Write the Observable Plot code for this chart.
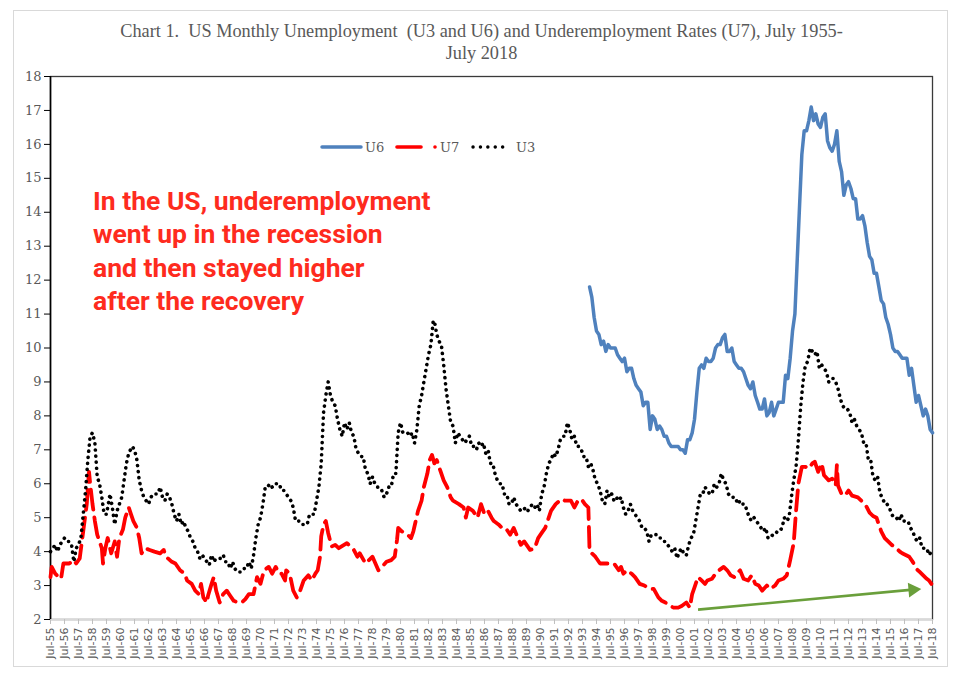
<!DOCTYPE html>
<html>
<head>
<meta charset="utf-8">
<script src="https://cdn.jsdelivr.net/npm/d3@7"></script>
<script src="https://cdn.jsdelivr.net/npm/@observablehq/plot@0.6"></script>
<style>
  html, body { margin: 0; padding: 0; background: #fff; }
  #wrap { position: relative; width: 959px; height: 677px; overflow: hidden; background: #fff; }
  #border { position: absolute; left: 13px; top: 10px; width: 935px; height: 657px; border: 1.5px solid #d9d9d9; box-sizing: border-box; }
  #chart { position: absolute; left: 0; top: 0; }
  #title { position: absolute; left: 2px; top: 20px; width: 959px; text-align: center; font-family: "Liberation Serif", "Times New Roman", serif; font-size: 18.3px; line-height: 22px; color: #595959; white-space: pre; }
  #legend { position: absolute; left: 0; top: 0; }
  #note { position: absolute; left: 93px; top: 184px; font-family: Roboto, "Liberation Sans", sans-serif; font-weight: 700; font-size: 26.5px; line-height: 33.3px; color: #fe2b1e; white-space: pre; }
</style>
</head>
<body>
<div id="wrap">
  <div id="border"></div>
  <div id="chart"></div>
  <div id="title"></div>
  <div id="note"></div>
  <svg id="legend" width="959" height="677"></svg>
</div>
<script>
// ---------- data ----------
const titleLines = ["Chart 1.  US Monthly Unemployment  (U3 and U6) and Underemployment Rates (U7), July 1955-", "July 2018"];
const noteLines = ["In the US, underemployment", "went up in the recession", "and then stayed higher", "after the recovery"];
const seriesNames = ["U6", "U7", "U3"];
const seriesColors = ["#4f81bd", "#ff0000", "#000000"];
const yTicks = [2,3,4,5,6,7,8,9,10,11,12,13,14,15,16,17,18];
const xTickLabels = ["Jul-55","Jul-56","Jul-57","Jul-58","Jul-59","Jul-60","Jul-61","Jul-62","Jul-63","Jul-64","Jul-65","Jul-66","Jul-67","Jul-68","Jul-69","Jul-70","Jul-71","Jul-72","Jul-73","Jul-74","Jul-75","Jul-76","Jul-77","Jul-78","Jul-79","Jul-80","Jul-81","Jul-82","Jul-83","Jul-84","Jul-85","Jul-86","Jul-87","Jul-88","Jul-89","Jul-90","Jul-91","Jul-92","Jul-93","Jul-94","Jul-95","Jul-96","Jul-97","Jul-98","Jul-99","Jul-00","Jul-01","Jul-02","Jul-03","Jul-04","Jul-05","Jul-06","Jul-07","Jul-08","Jul-09","Jul-10","Jul-11","Jul-12","Jul-13","Jul-14","Jul-15","Jul-16","Jul-17","Jul-18"];

const u3 = [["1955-07",4.0],["1955-09",4.1],["1955-11",4.2],["1956-01",4.0],["1956-03",4.2],["1956-05",4.3],["1956-07",4.4],["1956-09",4.3],["1956-11",4.3],["1957-01",4.2],["1957-03",3.7],["1957-05",4.1],["1957-07",4.2],["1957-09",4.4],["1957-11",5.1],["1958-01",5.8],["1958-03",6.7],["1958-05",7.4],["1958-07",7.5],["1958-09",7.2],["1958-11",6.2],["1959-01",6.0],["1959-03",5.6],["1959-05",5.1],["1959-07",5.1],["1959-09",5.5],["1959-10",5.7],["1959-12",5.3],["1960-02",4.8],["1960-04",5.2],["1960-06",5.4],["1960-08",5.6],["1960-10",6.1],["1960-12",6.6],["1961-02",6.9],["1961-05",7.1],["1961-07",7.0],["1961-09",6.7],["1961-11",6.1],["1962-01",5.8],["1962-03",5.6],["1962-05",5.5],["1962-07",5.4],["1962-09",5.6],["1962-11",5.7],["1963-01",5.7],["1963-03",5.7],["1963-05",5.9],["1963-07",5.6],["1963-09",5.5],["1963-11",5.7],["1964-01",5.6],["1964-03",5.4],["1964-05",5.1],["1964-07",4.9],["1964-09",5.1],["1964-11",4.8],["1965-01",4.9],["1965-03",4.7],["1965-05",4.6],["1965-07",4.4],["1965-09",4.3],["1965-11",4.1],["1966-01",4.0],["1966-03",3.8],["1966-05",3.9],["1966-07",3.8],["1966-09",3.7],["1966-11",3.6],["1967-01",3.9],["1967-03",3.7],["1967-05",3.8],["1967-07",3.8],["1967-09",3.8],["1967-11",3.9],["1968-01",3.7],["1968-03",3.7],["1968-05",3.5],["1968-07",3.7],["1968-09",3.5],["1968-11",3.4],["1969-01",3.4],["1969-03",3.4],["1969-05",3.5],["1969-07",3.5],["1969-09",3.7],["1969-11",3.5],["1970-01",3.9],["1970-03",4.4],["1970-05",4.8],["1970-07",5.0],["1970-09",5.4],["1970-11",5.9],["1971-01",5.9],["1971-03",6.0],["1971-05",5.9],["1971-07",6.0],["1971-09",6.0],["1971-11",6.0],["1972-01",5.8],["1972-03",5.8],["1972-05",5.7],["1972-07",5.6],["1972-09",5.5],["1972-11",5.3],["1973-01",4.9],["1973-03",4.9],["1973-05",4.9],["1973-07",4.8],["1973-09",4.8],["1973-11",4.8],["1974-01",5.1],["1974-03",5.1],["1974-05",5.1],["1974-07",5.5],["1974-09",5.9],["1974-11",6.6],["1975-01",8.1],["1975-03",8.6],["1975-05",9.0],["1975-07",8.6],["1975-09",8.4],["1975-11",8.3],["1976-01",7.9],["1976-03",7.6],["1976-05",7.4],["1976-07",7.8],["1976-09",7.6],["1976-11",7.8],["1977-01",7.5],["1977-03",7.4],["1977-05",7.0],["1977-07",6.9],["1977-09",6.8],["1977-11",6.8],["1978-01",6.4],["1978-03",6.3],["1978-05",6.0],["1978-07",6.2],["1978-09",6.0],["1978-11",5.9],["1979-01",5.9],["1979-03",5.8],["1979-05",5.6],["1979-07",5.7],["1979-09",5.9],["1979-11",5.9],["1980-01",6.3],["1980-03",6.3],["1980-05",7.5],["1980-07",7.8],["1980-09",7.5],["1980-11",7.5],["1981-01",7.5],["1981-03",7.4],["1981-05",7.5],["1981-07",7.2],["1981-09",7.6],["1981-11",8.3],["1982-01",8.6],["1982-03",9.0],["1982-05",9.4],["1982-07",9.8],["1982-09",10.1],["1982-11",10.8],["1982-12",10.8],["1983-02",10.4],["1983-04",10.2],["1983-06",10.1],["1983-08",9.5],["1983-10",8.8],["1983-12",8.3],["1984-02",7.8],["1984-04",7.7],["1984-06",7.2],["1984-08",7.5],["1984-10",7.4],["1984-12",7.3],["1985-02",7.2],["1985-04",7.3],["1985-06",7.4],["1985-08",7.1],["1985-10",7.1],["1985-12",7.0],["1986-02",7.2],["1986-04",7.1],["1986-06",7.2],["1986-08",6.9],["1986-10",7.0],["1986-12",6.6],["1987-02",6.6],["1987-04",6.3],["1987-06",6.1],["1987-08",6.0],["1987-10",6.0],["1987-12",5.7],["1988-02",5.7],["1988-04",5.4],["1988-06",5.4],["1988-08",5.6],["1988-10",5.4],["1988-12",5.3],["1989-02",5.2],["1989-04",5.2],["1989-06",5.3],["1989-08",5.2],["1989-10",5.3],["1989-12",5.4],["1990-02",5.3],["1990-04",5.4],["1990-06",5.2],["1990-08",5.7],["1990-10",5.9],["1990-12",6.3],["1991-02",6.6],["1991-04",6.7],["1991-06",6.9],["1991-08",6.8],["1991-10",7.0],["1991-12",7.3],["1992-02",7.4],["1992-04",7.4],["1992-06",7.8],["1992-08",7.6],["1992-10",7.3],["1992-12",7.4],["1993-02",7.1],["1993-04",7.1],["1993-06",7.0],["1993-08",6.8],["1993-10",6.8],["1993-12",6.5],["1994-02",6.6],["1994-04",6.4],["1994-06",6.1],["1994-08",6.0],["1994-10",5.8],["1994-12",5.5],["1995-02",5.4],["1995-04",5.8],["1995-06",5.6],["1995-08",5.7],["1995-10",5.5],["1995-12",5.6],["1996-02",5.5],["1996-04",5.6],["1996-06",5.3],["1996-08",5.1],["1996-10",5.2],["1996-12",5.4],["1997-02",5.2],["1997-04",5.1],["1997-06",5.0],["1997-08",4.9],["1997-10",4.7],["1997-12",4.7],["1998-02",4.6],["1998-04",4.3],["1998-06",4.5],["1998-08",4.5],["1998-10",4.5],["1998-12",4.4],["1999-02",4.4],["1999-04",4.3],["1999-06",4.3],["1999-08",4.2],["1999-10",4.1],["1999-12",4.0],["2000-02",4.1],["2000-04",3.8],["2000-06",4.0],["2000-08",4.1],["2000-10",3.9],["2000-12",3.9],["2001-02",4.2],["2001-04",4.4],["2001-06",4.5],["2001-08",4.9],["2001-10",5.3],["2001-12",5.7],["2002-02",5.7],["2002-04",5.9],["2002-06",5.8],["2002-08",5.7],["2002-10",5.7],["2002-12",6.0],["2003-02",5.9],["2003-04",6.0],["2003-06",6.3],["2003-08",6.1],["2003-10",6.0],["2003-12",5.7],["2004-02",5.6],["2004-04",5.6],["2004-06",5.6],["2004-08",5.4],["2004-10",5.5],["2004-12",5.4],["2005-02",5.4],["2005-04",5.2],["2005-06",5.0],["2005-08",4.9],["2005-10",5.0],["2005-12",4.9],["2006-02",4.8],["2006-04",4.7],["2006-06",4.6],["2006-08",4.7],["2006-10",4.4],["2006-12",4.4],["2007-02",4.5],["2007-04",4.5],["2007-06",4.6],["2007-08",4.6],["2007-10",4.7],["2007-12",5.0],["2008-02",4.9],["2008-04",5.0],["2008-06",5.6],["2008-08",6.1],["2008-10",6.5],["2008-12",7.3],["2009-02",8.3],["2009-04",9.0],["2009-06",9.5],["2009-08",9.6],["2009-10",10.0],["2009-12",9.9],["2010-02",9.8],["2010-04",9.9],["2010-06",9.4],["2010-08",9.5],["2010-10",9.4],["2010-12",9.3],["2011-02",9.0],["2011-04",9.1],["2011-06",9.1],["2011-08",9.0],["2011-10",8.8],["2011-12",8.5],["2012-02",8.3],["2012-04",8.2],["2012-06",8.2],["2012-08",8.1],["2012-10",7.8],["2012-12",7.9],["2013-02",7.7],["2013-04",7.6],["2013-06",7.5],["2013-08",7.2],["2013-10",7.2],["2013-12",6.7],["2014-02",6.7],["2014-04",6.2],["2014-06",6.1],["2014-08",6.2],["2014-10",5.7],["2014-12",5.6],["2015-02",5.4],["2015-04",5.4],["2015-06",5.3],["2015-08",5.1],["2015-10",5.0],["2015-12",5.0],["2016-02",4.9],["2016-04",5.1],["2016-06",4.9],["2016-08",4.9],["2016-10",4.9],["2016-12",4.7],["2017-02",4.6],["2017-04",4.4],["2017-06",4.3],["2017-08",4.4],["2017-10",4.1],["2017-12",4.1],["2018-02",4.1],["2018-04",3.9],["2018-06",4.0],["2018-07",3.9]];

const u7 = [["1955-07",3.25],["1955-08",3.55],["1955-11",3.35],["1956-02",3.25],["1956-04",3.2],["1956-06",3.65],["1956-09",3.65],["1956-11",3.65],["1957-03",3.75],["1957-05",3.65],["1957-08",3.8],["1957-11",4.6],["1958-02",5.4],["1958-04",6.35],["1958-05",6.0],["1958-07",5.4],["1958-09",4.9],["1958-11",4.5],["1959-01",4.3],["1959-03",4.1],["1959-04",3.65],["1959-06",4.1],["1959-08",4.4],["1959-11",3.95],["1960-02",4.3],["1960-04",3.85],["1960-06",4.4],["1960-09",4.65],["1960-11",5.0],["1961-02",5.3],["1961-04",5.1],["1961-06",4.9],["1961-09",4.7],["1961-11",4.4],["1962-01",3.95],["1962-04",4.1],["1962-08",4.05],["1962-12",4.0],["1963-05",3.95],["1963-08",4.05],["1963-10",3.85],["1964-03",3.7],["1964-06",3.65],["1964-10",3.45],["1965-02",3.35],["1965-04",3.15],["1965-08",3.05],["1965-11",2.85],["1966-02",2.75],["1966-04",3.05],["1966-06",2.65],["1966-09",2.5],["1966-10",2.7],["1967-01",3.05],["1967-03",3.25],["1967-05",2.85],["1967-08",2.5],["1967-11",2.75],["1968-02",2.85],["1968-05",2.7],["1968-08",2.55],["1968-12",2.5],["1969-03",2.5],["1969-06",2.6],["1969-09",2.75],["1970-01",2.75],["1970-04",3.25],["1970-07",3.05],["1970-10",3.45],["1971-02",3.55],["1971-05",3.35],["1971-08",3.55],["1971-11",3.35],["1972-01",3.35],["1972-04",3.15],["1972-05",3.45],["1972-08",3.35],["1972-11",2.85],["1973-02",2.65],["1973-05",2.85],["1973-08",3.15],["1973-12",3.3],["1974-03",3.15],["1974-06",3.35],["1974-08",3.45],["1974-10",3.85],["1974-11",4.45],["1975-01",4.8],["1975-03",4.9],["1975-05",4.55],["1975-08",4.15],["1975-11",4.2],["1976-02",4.1],["1976-09",4.25],["1976-12",4.15],["1977-03",4.05],["1977-06",3.85],["1977-08",3.95],["1978-01",3.65],["1978-04",3.75],["1978-07",3.85],["1978-12",3.45],["1979-03",3.55],["1979-07",3.7],["1979-11",3.75],["1980-02",3.85],["1980-04",4.35],["1980-05",4.7],["1980-08",4.6],["1981-01",4.5],["1981-04",4.4],["1981-06",4.6],["1981-08",4.9],["1981-10",5.2],["1982-01",5.5],["1982-03",5.9],["1982-06",6.3],["1982-08",6.7],["1982-10",6.85],["1982-12",6.6],["1983-02",6.7],["1983-05",6.4],["1983-08",6.1],["1983-11",5.9],["1984-02",5.6],["1984-04",5.5],["1984-09",5.4],["1985-01",5.3],["1985-03",5.0],["1985-05",5.3],["1985-09",5.2],["1986-01",5.0],["1986-04",5.4],["1986-07",5.1],["1986-10",5.2],["1987-01",5.0],["1987-03",4.9],["1987-07",4.8],["1987-10",4.7],["1988-01",4.7],["1988-05",4.5],["1988-08",4.7],["1988-11",4.45],["1989-02",4.2],["1989-05",4.3],["1989-10",4.05],["1990-02",4.1],["1990-05",4.4],["1990-07",4.5],["1990-11",4.7],["1991-02",5.0],["1991-04",5.2],["1991-08",5.4],["1992-01",5.55],["1992-04",5.5],["1992-09",5.5],["1992-12",5.3],["1993-03",5.5],["1993-06",5.55],["1993-09",5.4],["1993-12",5.3],["1994-01",4.0],["1994-03",3.95],["1994-06",3.85],["1994-10",3.65],["1995-02",3.65],["1995-07",3.65],["1995-10",3.65],["1996-02",3.45],["1996-04",3.55],["1996-06",3.35],["1996-09",3.45],["1997-01",3.35],["1997-04",3.25],["1997-08",3.05],["1997-12",3.0],["1998-05",2.9],["1998-08",2.9],["1998-12",2.65],["1999-03",2.55],["1999-06",2.5],["1999-10",2.4],["2000-01",2.35],["2000-05",2.35],["2000-08",2.4],["2000-12",2.5],["2001-03",2.35],["2001-05",2.75],["2001-07",2.95],["2001-10",3.25],["2002-01",3.15],["2002-04",3.05],["2002-06",3.15],["2002-10",3.2],["2003-01",3.35],["2003-04",3.45],["2003-08",3.55],["2003-11",3.45],["2004-02",3.3],["2004-05",3.25],["2004-07",3.35],["2004-10",3.45],["2005-01",3.2],["2005-05",3.15],["2005-08",3.3],["2005-11",3.05],["2006-02",3.0],["2006-05",2.85],["2006-09",3.0],["2006-12",2.9],["2007-04",3.0],["2007-07",3.15],["2007-11",3.2],["2008-02",3.3],["2008-05",3.75],["2008-08",4.25],["2008-10",5.2],["2008-12",6.0],["2009-03",6.5],["2009-06",6.5],["2009-09",6.45],["2009-12",6.6],["2010-02",6.65],["2010-05",6.35],["2010-08",6.6],["2010-10",6.25],["2011-02",6.1],["2011-05",6.15],["2011-08",5.95],["2011-09",6.55],["2011-10",5.95],["2012-01",5.7],["2012-04",5.65],["2012-07",5.8],["2012-10",5.65],["2013-03",5.6],["2013-06",5.5],["2013-10",5.35],["2014-01",5.15],["2014-04",5.05],["2014-07",5.0],["2014-11",4.6],["2015-02",4.4],["2015-05",4.3],["2015-08",4.2],["2015-12",4.1],["2016-03",4.0],["2016-05",3.95],["2016-08",3.9],["2016-11",3.85],["2017-02",3.7],["2017-05",3.5],["2017-08",3.4],["2017-11",3.3],["2018-02",3.2],["2018-04",3.15],["2018-07",3.0]];

const u6 = [["1994-01",11.8],["1994-03",11.5],["1994-05",10.9],["1994-07",10.5],["1994-09",10.4],["1994-11",10.1],["1995-01",10.2],["1995-03",9.9],["1995-05",10.1],["1995-07",10.0],["1995-09",10.0],["1995-11",10.0],["1996-01",9.8],["1996-03",9.7],["1996-05",9.6],["1996-07",9.7],["1996-09",9.3],["1996-11",9.4],["1997-01",9.4],["1997-03",9.1],["1997-05",8.9],["1997-07",8.8],["1997-09",8.7],["1997-11",8.3],["1998-01",8.4],["1998-03",8.4],["1998-05",7.6],["1998-07",8.0],["1998-09",7.9],["1998-11",7.6],["1999-01",7.7],["1999-03",7.6],["1999-05",7.4],["1999-07",7.4],["1999-09",7.2],["1999-11",7.1],["2000-01",7.1],["2000-03",7.1],["2000-05",7.1],["2000-07",7.0],["2000-09",7.0],["2000-11",6.9],["2001-01",7.3],["2001-03",7.3],["2001-05",7.5],["2001-07",7.9],["2001-09",8.7],["2001-11",9.4],["2002-01",9.5],["2002-03",9.4],["2002-05",9.7],["2002-07",9.6],["2002-09",9.6],["2002-11",9.7],["2003-01",10.0],["2003-03",10.1],["2003-05",10.1],["2003-07",10.3],["2003-09",10.4],["2003-11",9.9],["2004-01",9.9],["2004-03",10.0],["2004-05",9.6],["2004-07",9.5],["2004-09",9.4],["2004-11",9.4],["2005-01",9.3],["2005-03",9.1],["2005-05",8.9],["2005-07",8.8],["2005-09",9.0],["2005-11",8.6],["2006-01",8.4],["2006-03",8.2],["2006-05",8.2],["2006-07",8.5],["2006-09",8.0],["2006-11",8.1],["2007-01",8.4],["2007-03",8.0],["2007-05",8.2],["2007-07",8.4],["2007-09",8.4],["2007-11",8.4],["2008-01",9.2],["2008-03",9.1],["2008-05",9.7],["2008-07",10.5],["2008-09",11.0],["2008-11",12.6],["2009-01",14.2],["2009-03",15.7],["2009-05",16.4],["2009-07",16.4],["2009-09",16.7],["2009-11",17.1],["2010-01",16.7],["2010-03",16.9],["2010-05",16.6],["2010-07",16.5],["2010-09",16.8],["2010-11",16.9],["2011-01",16.1],["2011-03",15.9],["2011-05",15.8],["2011-07",16.0],["2011-09",16.4],["2011-11",15.5],["2012-01",15.2],["2012-03",14.5],["2012-05",14.8],["2012-07",14.9],["2012-09",14.7],["2012-11",14.4],["2013-01",14.4],["2013-03",13.8],["2013-05",13.8],["2013-07",13.9],["2013-09",13.6],["2013-11",13.1],["2014-01",12.7],["2014-03",12.6],["2014-05",12.2],["2014-07",12.2],["2014-09",11.8],["2014-11",11.4],["2015-01",11.3],["2015-03",10.9],["2015-05",10.7],["2015-07",10.4],["2015-09",10.0],["2015-11",9.9],["2016-01",9.9],["2016-03",9.8],["2016-05",9.7],["2016-07",9.7],["2016-09",9.7],["2016-11",9.2],["2017-01",9.4],["2017-03",8.9],["2017-05",8.4],["2017-07",8.6],["2017-09",8.3],["2017-11",8.0],["2018-01",8.2],["2018-03",8.0],["2018-05",7.6],["2018-07",7.5]];

// annotation arrow (start and end, in data units)
const arrowFrom = ["2001-10", 2.29];
const arrowTo = ["2017-02", 2.88];

// ---------- build ----------
const parse = d3.utcParse("%Y-%m");
const rows = (pairs) => pairs.map(([m, v]) => ({date: parse(m), value: v}));
const tickDate = (s) => { const yy = +s.slice(4); return new Date(Date.UTC((yy > 50 ? 1900 : 2000) + yy, 6, 1)); };
const xTicks = xTickLabels.map(tickDate);
const labelOf = new Map(xTicks.map((d, i) => [+d, xTickLabels[i]]));

const arrowRow = [{x1: parse(arrowFrom[0]), y1: arrowFrom[1], x2: parse(arrowTo[0]), y2: arrowTo[1]}];

const plot = Plot.plot({
  width: 959,
  height: 677,
  marginLeft: 50,
  marginRight: 27,
  marginTop: 76,
  marginBottom: 58,
  x: {type: "utc", domain: [xTicks[0], xTicks[xTicks.length - 1]]},
  y: {domain: [yTicks[0], yTicks[yTicks.length - 1]]},
  style: {background: "transparent", overflow: "visible"},
  marks: [
    Plot.frame({stroke: "#3a3a3a", strokeWidth: 1.3}),
    Plot.ruleY([yTicks[0]], {stroke: "#d9d9d9", strokeWidth: 2}),
    Plot.ruleX([xTicks[0]], {stroke: "#000", strokeWidth: 1.6}),
    Plot.axisY({ticks: yTicks, tickSize: 6, tickPadding: 3, stroke: "#000", fill: "#595959", fontSize: 13, fontFamily: "DejaVu Serif", label: null, tickFormat: d => String(d)}),
    Plot.axisX({ticks: xTicks, tickFormat: d => labelOf.get(+d), tickRotate: -90, tickSize: 5, tickPadding: 3, stroke: "#bfbfbf", fill: "#595959", fontSize: 11, fontFamily: "DejaVu Sans", label: null}),
    Plot.line(rows(u6), {x: "date", y: "value", stroke: seriesColors[0], strokeWidth: 3.5, strokeLinejoin: "round"}),
    Plot.line(rows(u7), {x: "date", y: "value", stroke: seriesColors[1], strokeWidth: 3.8, strokeDasharray: "20 8", strokeLinejoin: "round"}),
    Plot.line(rows(u3), {x: "date", y: "value", stroke: seriesColors[2], strokeWidth: 3.6, strokeDasharray: "0.1 6", strokeLinecap: "round"}),
    Plot.link(arrowRow, {x1: "x1", y1: "y1", x2: "x2", y2: "y2", stroke: "#6a9f3b", strokeWidth: 2.6}),
    Plot.dot(arrowRow, {x: "x2", y: "y2", symbol: "triangle", r: 5.5, fill: "#6a9f3b", stroke: "none", rotate: 85})
  ]
});
document.getElementById("chart").appendChild(plot);

document.getElementById("title").innerHTML = titleLines.join("<br>");
document.getElementById("note").textContent = noteLines.join("\n");

// legend
const lg = d3.select("#legend");
const ly = 147;
const font = "DejaVu Serif";
// U6
lg.append("line").attr("x1", 322).attr("x2", 361).attr("y1", ly).attr("y2", ly).attr("stroke", seriesColors[0]).attr("stroke-width", 3.5).attr("stroke-linecap", "round");
lg.append("text").attr("x", 365).attr("y", ly + 5).attr("font-family", font).attr("font-size", 13).attr("fill", "#595959").text(seriesNames[0]);
// U7
lg.append("line").attr("x1", 397).attr("x2", 421).attr("y1", ly).attr("y2", ly).attr("stroke", seriesColors[1]).attr("stroke-width", 3.6).attr("stroke-linecap", "round");
lg.append("circle").attr("cx", 435).attr("cy", ly).attr("r", 1.8).attr("fill", seriesColors[1]);
lg.append("text").attr("x", 440).attr("y", ly + 5).attr("font-family", font).attr("font-size", 13).attr("fill", "#595959").text(seriesNames[1]);
// U3
lg.append("line").attr("x1", 473).attr("x2", 510).attr("y1", ly).attr("y2", ly).attr("stroke", seriesColors[2]).attr("stroke-width", 3.4).attr("stroke-dasharray", "0.1 7.3").attr("stroke-linecap", "round");
lg.append("text").attr("x", 516).attr("y", ly + 5).attr("font-family", font).attr("font-size", 13).attr("fill", "#595959").text(seriesNames[2]);
</script>
</body>
</html>
